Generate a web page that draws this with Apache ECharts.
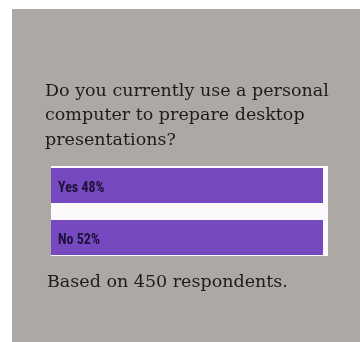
<!DOCTYPE html>
<html><head><meta charset="utf-8">
<script src="https://cdn.jsdelivr.net/npm/echarts@6/dist/echarts.min.js"></script>
<style>html,body{margin:0;padding:0;background:#fff}#c{width:360px;height:342px}</style>
</head><body><div id="c"></div>
<script>
const categories = ['Yes', 'No'];
const percents = [48, 52];
const question = 'Do you currently use a personal\ncomputer to prepare desktop\npresentations?';
const footnote = 'Based on 450 respondents.';

const chart = echarts.init(document.getElementById('c'), null, {renderer: 'canvas'});
const purple = '#7749c0';
chart.setOption({
  backgroundColor: '#ffffff',
  animation: false,
  graphic: [
    {type: 'rect', z: -10, shape: {x: 12, y: 9, width: 348, height: 333}, style: {fill: '#aca9a5'}},
    {type: 'rect', z: -5, shape: {x: 51, y: 166, width: 277, height: 90}, style: {fill: '#fbf9fb'}}
  ],
  title: [
    {text: question, left: 45, top: 79, padding: 0,
     textStyle: {fontFamily: 'DejaVu Serif', fontWeight: 'normal', fontSize: 17.5, lineHeight: 24.5, color: '#1d1a1a'}},
    {text: footnote, left: 47, top: 273, padding: 0,
     textStyle: {fontFamily: 'DejaVu Serif', fontWeight: 'normal', fontSize: 17.5, color: '#1d1a1a'}}
  ],
  grid: {left: 51, right: 37, top: 159.5, bottom: 78.5, containLabel: false},
  xAxis: {type: 'value', min: 0, max: 100, show: false},
  yAxis: {type: 'category', data: categories, inverse: true, show: false},
  series: [{
    type: 'bar',
    data: percents,
    barWidth: 35,
    showBackground: true,
    backgroundStyle: {color: purple},
    itemStyle: {color: purple},
    label: {
      show: true, position: 'insideLeft', distance: 7, offset: [0, 3],
      formatter: p => p.name + ' ' + p.value + '%',
      fontFamily: "'Liberation Sans Narrow', 'Roboto Condensed', 'Liberation Sans', sans-serif",
      fontWeight: 'bold', fontSize: 14, color: '#1a1238'
    }
  }]
});
</script></body></html>
